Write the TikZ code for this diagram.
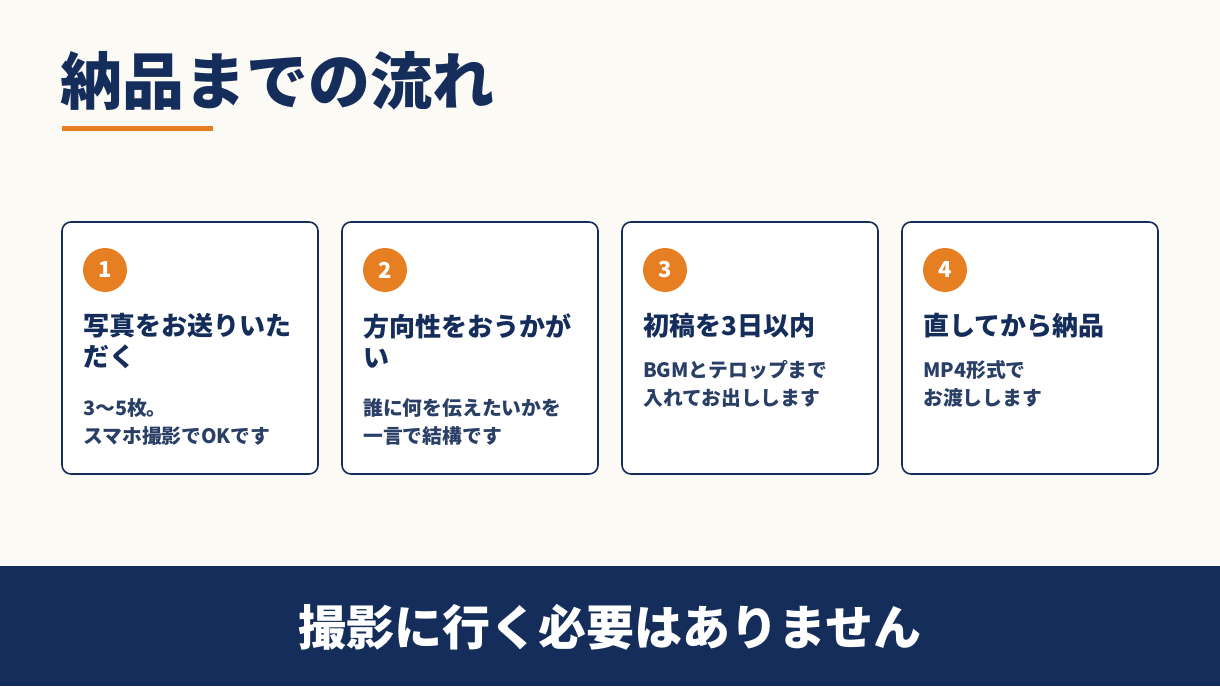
\documentclass[tikz,border=0pt]{standalone}
\usepackage{fontspec}
\setmainfont{Noto Sans CJK JP}
\definecolor{navy}{HTML}{142D5A}
\definecolor{orng}{HTML}{E67E22}
\definecolor{bg}{HTML}{FCFAF5}
\definecolor{desc}{HTML}{2A3F66}
\begin{document}
\begin{tikzpicture}[x=1pt,y=-1pt,
  card/.style={draw=navy,line width=1.6pt,rounded corners=9pt,fill=white},
  num/.style={circle,fill=orng,minimum size=44pt,inner sep=0pt,text=white,font=\fontsize{22}{22}\selectfont\bfseries},
  ttl/.style={anchor=north west,inner sep=0pt,text=navy,align=left,font=\fontsize{26}{31}\selectfont\bfseries},
  dsc/.style={anchor=north west,inner sep=0pt,text=desc,align=left,font=\fontsize{19.8}{28.5}\selectfont\bfseries}]
\fill[bg] (0,0) rectangle (1220,686);
\useasboundingbox (0,0) rectangle (1220,686);
\node[anchor=base west,inner sep=0pt,text=navy,font=\fontsize{62}{62}\selectfont\bfseries] (title) at (60,104) {納品までの流れ};
\fill[orng] (62,126) rectangle (213,131);
\foreach \i/\x/\t in {1/62/{写真をお送りいた\\だく},
  2/342/{方向性をおうかが\\い},
  3/622/{初稿を3日以内},
  4/902/{直してから納品}}{
  \draw[card] (\x,222) rectangle (\x+256,474);
  \node[num] (n\i) at (\x+43,270) {\i};
  \node[ttl] (t\i) at (\x+21,313) {\t};
}
\node[dsc] (d1) at (83,398) {3〜5枚。\\スマホ撮影でOKです};
\node[dsc] (d2) at (363,398) {誰に何を伝えたいかを\\一言で結構です};
\node[dsc] (d3) at (643,360) {BGMとテロップまで\\入れてお出しします};
\node[dsc] (d4) at (923,360) {MP4形式で\\お渡しします};
\fill[navy] (0,566) rectangle (1220,686);
\node[text=white,font=\fontsize{48}{48}\selectfont\bfseries] (band) at (610,627) {撮影に行く必要はありません};
\end{tikzpicture}
\end{document}
